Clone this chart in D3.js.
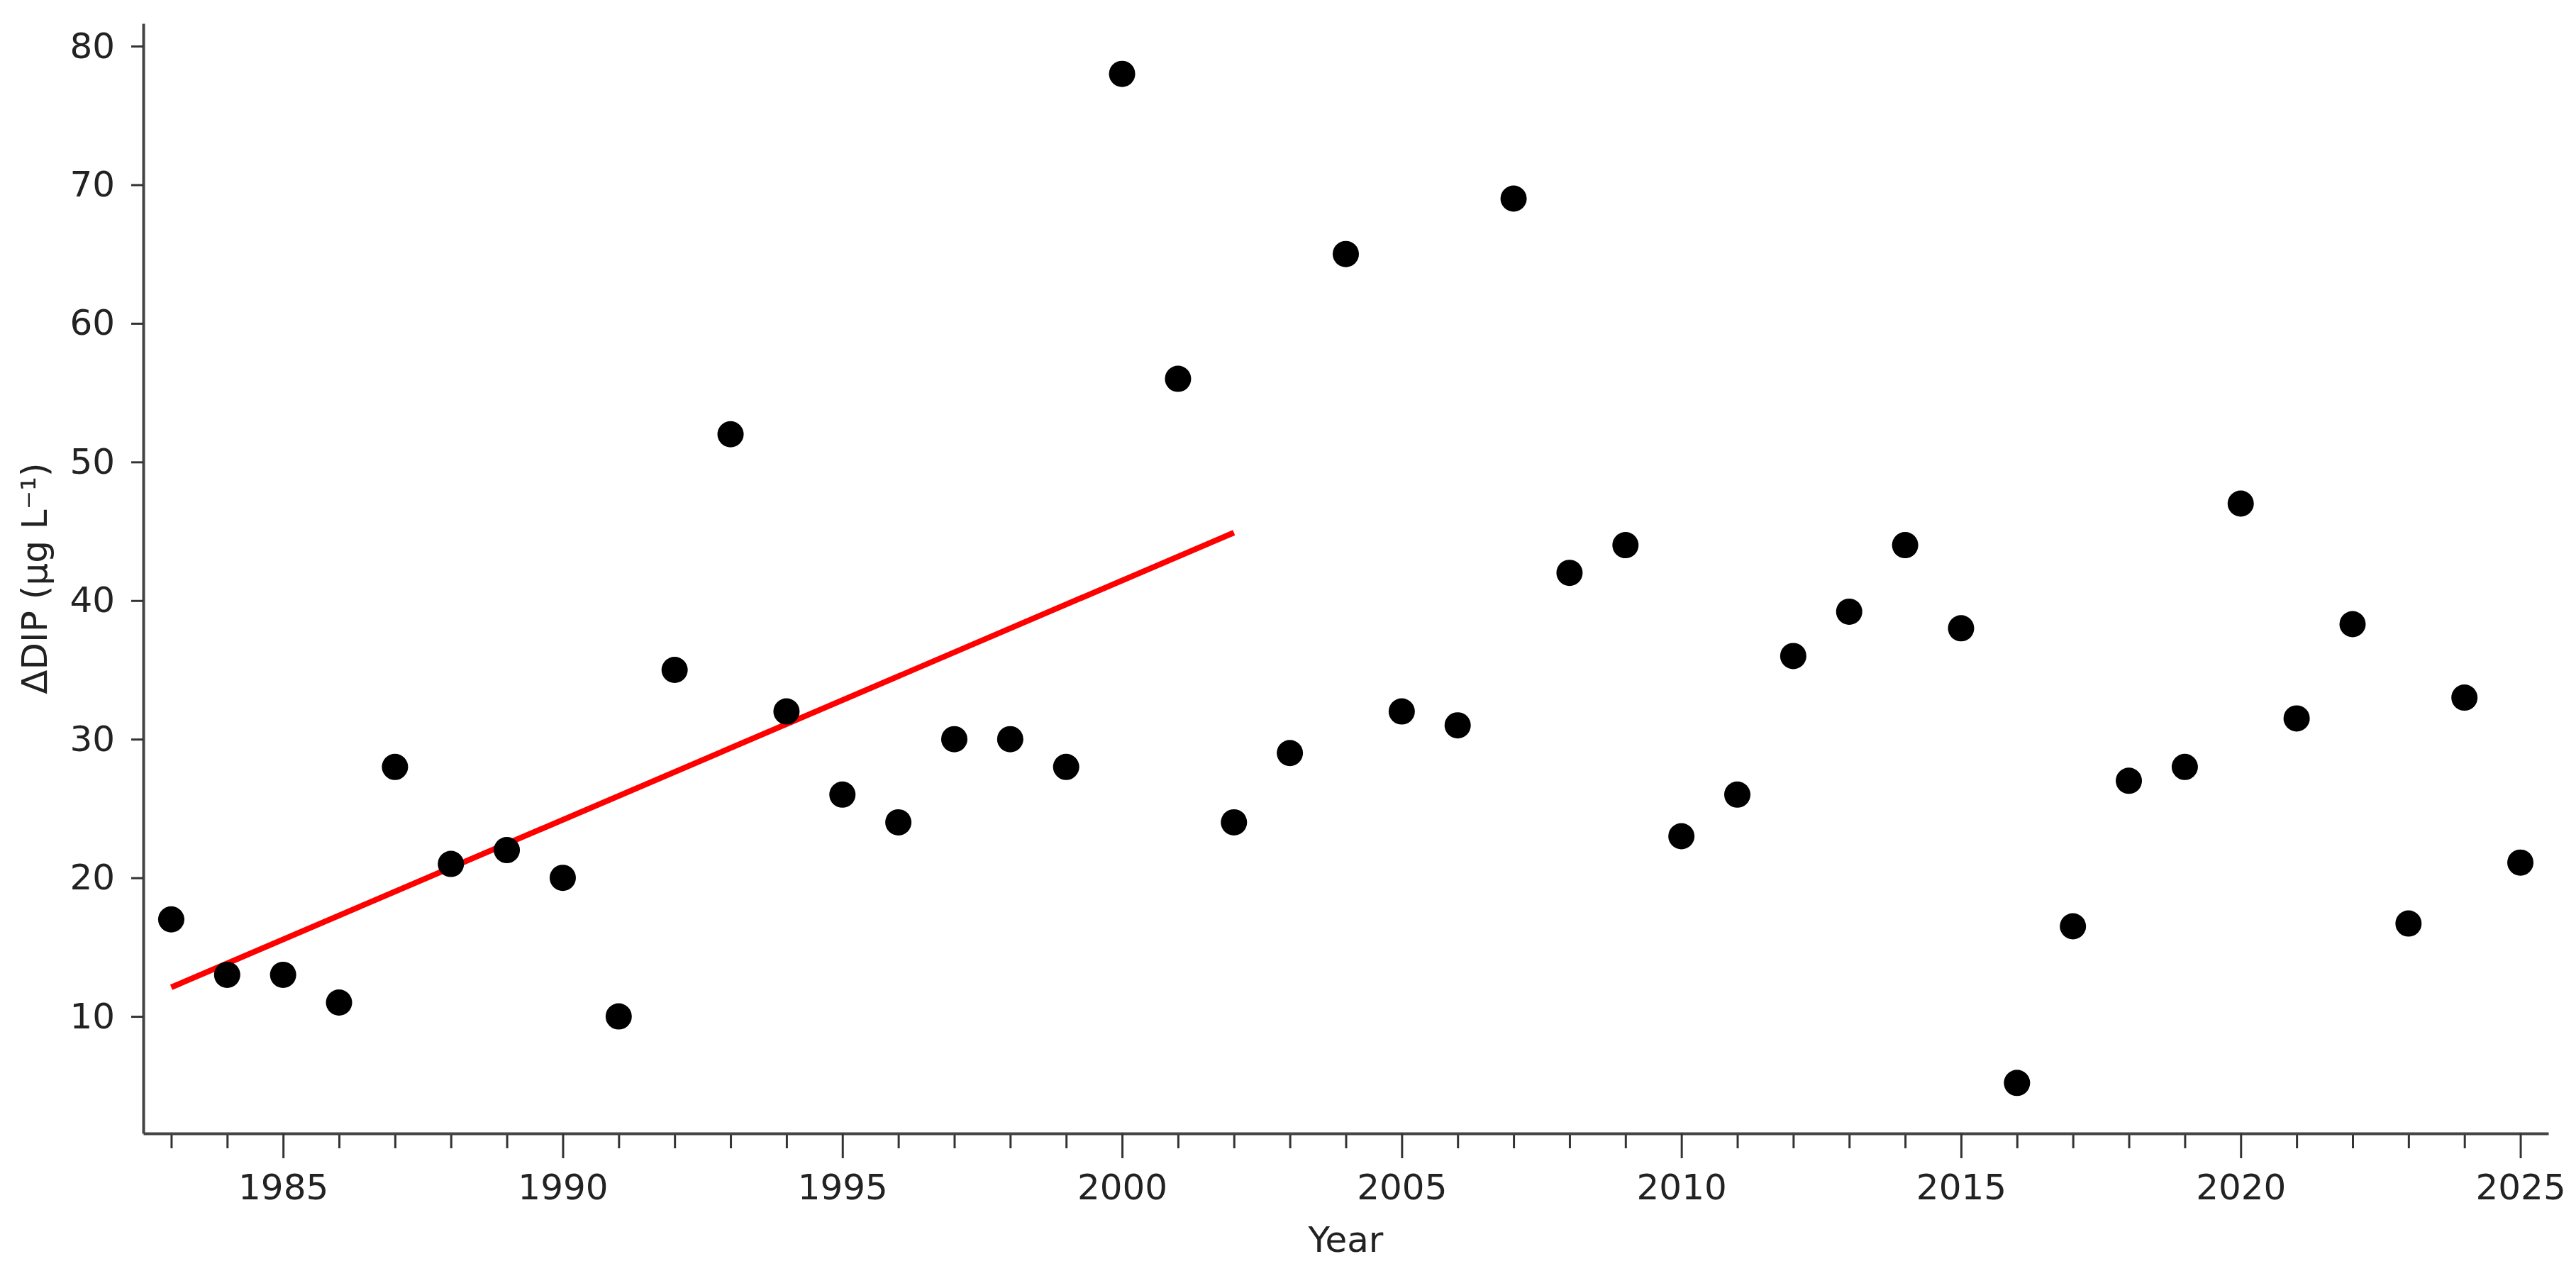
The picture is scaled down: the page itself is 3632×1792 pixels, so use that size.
<!DOCTYPE html>
<html>
<head>
<meta charset="utf-8">
<script src="https://cdn.jsdelivr.net/npm/d3@7"></script>
<style>
  body { margin: 0; background: #fff; }
  text { font-family: "DejaVu Sans", sans-serif; fill: #222; }
</style>
</head>
<body>
<div id="chart"></div>
<script>
(() => {
  // data
  const years = [1983, 1984, 1985, 1986, 1987, 1988, 1989, 1990, 1991, 1992,
    1993, 1994, 1995, 1996, 1997, 1998, 1999, 2000, 2001, 2002,
    2003, 2004, 2005, 2006, 2007, 2008, 2009, 2010, 2011, 2012,
    2013, 2014, 2015, 2016, 2017, 2018, 2019, 2020, 2021, 2022,
    2023, 2024, 2025]
  const dip = [17, 13, 13, 11, 28, 21, 22, 20, 10, 35,
    52, 32, 26, 24, 30, 30, 28, 78, 56, 24,
    29, 65, 32, 31, 69, 42, 44, 23, 26, 36,
    39.2, 44, 38, 5.2, 16.5, 27, 28, 47, 31.5, 38.3,
    16.7, 33, 21.1]

  // trend line (1983-2002 fit), end points
  const trendYears = [1983, 2002]
  const trendValues = [12.1, 44.9]

  const majorTicks = [1985, 1990, 1995, 2000, 2005, 2010, 2015, 2020, 2025]
  const minorTicks = years.filter(y => y % 5 !== 0)
  const yTicks = [10, 20, 30, 40, 50, 60, 70, 80]

  const WIDTH = 3632
  const HEIGHT = 1792
  const MARGIN = { left: 202, right: 39, top: 33, bottom: 194 }
  const FONT = 50

  const data = years.map((y, i) => ({ year: y, value: dip[i] }))

  const svg = d3.select('#chart')
    .append('svg')
    .attr('width', WIDTH)
    .attr('height', HEIGHT)

  const xScale = d3.scaleLinear()
    .domain([1982.5, 2025.5])
    .range([MARGIN.left, WIDTH - MARGIN.right])

  // matplotlib style 5% padding on y
  const [lo, hi] = d3.extent(dip)
  const pad = (hi - lo) * 0.05
  const yScale = d3.scaleLinear()
    .domain([lo - pad, hi + pad])
    .range([HEIGHT - MARGIN.bottom, MARGIN.top])

  const axisY = HEIGHT - MARGIN.bottom

  // minor x ticks
  svg.append('g')
    .attr('transform', `translate(0, ${axisY})`)
    .call(d3.axisBottom(xScale).tickValues(minorTicks).tickSize(21).tickFormat(''))
    .call(g => g.select('.domain').remove())
    .call(g => g.selectAll('line').attr('stroke', '#333').attr('stroke-width', 3))

  // major x ticks
  svg.append('g')
    .attr('transform', `translate(0, ${axisY})`)
    .call(d3.axisBottom(xScale).tickValues(majorTicks).tickSize(35).tickSizeOuter(0)
      .tickPadding(22).tickFormat(d3.format('d')))
    .call(g => g.select('.domain').attr('stroke', '#444').attr('stroke-width', 4))
    .call(g => g.selectAll('line').attr('stroke', '#333').attr('stroke-width', 3))
    .call(g => g.selectAll('text').attr('font-size', FONT).attr('font-family', 'DejaVu Sans').attr('fill', '#222'))

  // y axis
  svg.append('g')
    .attr('transform', `translate(${MARGIN.left}, 0)`)
    .call(d3.axisLeft(yScale).tickValues(yTicks).tickSize(17).tickPadding(23).tickSizeOuter(0))
    .call(g => g.select('.domain').attr('stroke', '#444').attr('stroke-width', 4))
    .call(g => g.selectAll('line').attr('stroke', '#333').attr('stroke-width', 3))
    .call(g => g.selectAll('text').attr('font-size', FONT).attr('font-family', 'DejaVu Sans').attr('fill', '#222'))

  // trend line
  const lineGen = d3.line()
    .x(d => xScale(d[0]))
    .y(d => yScale(d[1]))

  svg.append('path')
    .datum(trendYears.map((y, i) => [y, trendValues[i]]))
    .attr('d', lineGen)
    .attr('fill', 'none')
    .attr('stroke', '#ff0000')
    .attr('stroke-width', 8)

  // points
  svg.append('g')
    .selectAll('circle')
    .data(data)
    .join('circle')
    .attr('cx', d => xScale(d.year))
    .attr('cy', d => yScale(d.value))
    .attr('r', 18.5)
    .attr('fill', '#000')

  // axis titles
  svg.append('text')
    .attr('x', (MARGIN.left + WIDTH - MARGIN.right) / 2)
    .attr('y', 1765)
    .attr('text-anchor', 'middle')
    .attr('font-size', FONT)
    .text('Year')

  svg.append('text')
    .attr('transform', `translate(66, ${(MARGIN.top + axisY) / 2}) rotate(-90)`)
    .attr('text-anchor', 'middle')
    .attr('font-size', FONT)
    .text('ΔDIP (μg L⁻¹)')
})()
</script>
</body>
</html>
